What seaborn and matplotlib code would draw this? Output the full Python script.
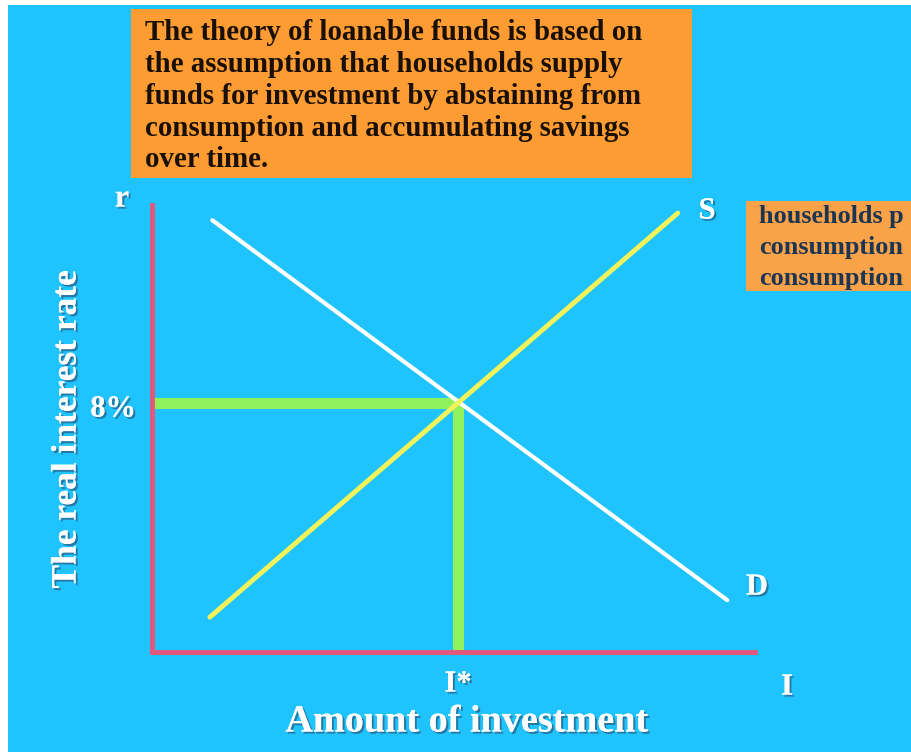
import matplotlib
matplotlib.use("Agg")
import matplotlib.pyplot as plt
import matplotlib.patheffects as pe
from matplotlib.patches import Rectangle
import seaborn as sns
import pandas as pd

# ---- data ----
demand_x = [1.0, 9.54]
demand_y = [9.66, 1.16]
supply_x = [0.96, 8.72]
supply_y = [0.78, 9.82]
eq_x = 5.07
eq_y = 5.57
rate_label = "8%"
qty_label = "I*"
x_axis_name = "I"
y_axis_name = "r"
supply_name = "S"
demand_name = "D"
x_title = "Amount of investment"
y_title = "The real interest rate"
box_lines = ["The theory of loanable funds is based on",
             "the assumption that households supply",
             "funds for investment by abstaining from",
             "consumption and accumulating savings",
             "over time."]
side_lines = ["households p",
              "consumption",
              "consumption"]

sns.set_theme(style="white")
plt.rcParams['font.family'] = ['Liberation Serif', 'DejaVu Serif']

W, H = 912, 752
CYAN = "#1fc3fd"
fig = plt.figure(figsize=(W / 100, H / 100), dpi=100)
fig.patch.set_facecolor(CYAN)

def fx(px):
    return px / W

def fy(py):
    return 1 - py / H

# overlay axes for background and boxes (figure pixel coordinates)
ov = fig.add_axes([0, 0, 1, 1], zorder=0)
ov.set_xlim(0, W)
ov.set_ylim(H, 0)
ov.axis("off")
ov.patch.set_alpha(0)
ov.add_patch(Rectangle((0, 0), 8, H, facecolor="white", edgecolor="none", zorder=0))
ov.add_patch(Rectangle((0, 0), W, 5, facecolor="white", edgecolor="none", zorder=0))

# top orange box
ov.add_patch(Rectangle((131, 9), 561, 169, facecolor="#fd9c32", edgecolor="none", zorder=1))
for i, line in enumerate(box_lines):
    ov.text(145, 33 + i * 31.7, line, fontsize=20.8, fontweight="bold", color="#1a0f05",
            va="center", ha="left", zorder=2)

# side orange box (cut off by the edge in the reference)
ov.add_patch(Rectangle((746, 201), 200, 90, facecolor="#f9a247", edgecolor="none", zorder=1))
for i, line in enumerate(side_lines):
    ov.text(759, 217 + i * 30.5, line, fontsize=18.8, fontweight="bold", color="#1c3552",
            va="center", ha="left", zorder=2)

# main axes
L, R, T, B = 152, 755, 205, 652
ax = fig.add_axes([fx(L), fy(B), (R - L) / W, (B - T) / H], zorder=1)
ax.patch.set_alpha(0)
ax.set_xlim(0, 10)
ax.set_ylim(0, 10)

green = "#8ff25c"
ax.plot([0, eq_x], [eq_y, eq_y], color=green, lw=8, solid_capstyle="butt", zorder=2)
ax.plot([eq_x, eq_x], [0, eq_y], color=green, lw=8, solid_capstyle="butt", zorder=2)

df_d = pd.DataFrame({"x": demand_x, "y": demand_y})
df_s = pd.DataFrame({"x": supply_x, "y": supply_y})
sns.lineplot(data=df_d, x="x", y="y", ax=ax, color="white", lw=3, zorder=3)
sns.lineplot(data=df_s, x="x", y="y", ax=ax, color="#f2f25a", lw=3.5, zorder=4)

for s in ["top", "right"]:
    ax.spines[s].set_visible(False)
for s in ["left", "bottom"]:
    ax.spines[s].set_visible(True)
    ax.spines[s].set_color("#e2577a")
    ax.spines[s].set_linewidth(3.5)
ax.set_xticks([])
ax.set_yticks([])
ax.set_xlabel("")
ax.set_ylabel("")

# text overlay on top
tx = fig.add_axes([0, 0, 1, 1], zorder=2)
tx.set_xlim(0, W)
tx.set_ylim(H, 0)
tx.axis("off")
tx.patch.set_alpha(0)

shadow = [pe.withSimplePatchShadow(offset=(1.5, -1.5), shadow_rgbFace="#2a5a80", alpha=0.7), pe.Normal()]

def wtext(x, y, s, size, **kw):
    t = tx.text(x, y, s, fontsize=size, fontweight="bold", color="white", zorder=5, **kw)
    t.set_path_effects(shadow)
    return t

wtext(122, 199, y_axis_name, 23, ha="center", va="center")
wtext(136, 409, rate_label, 22, ha="right", va="center")
wtext(707, 211, supply_name, 22, ha="center", va="center")
wtext(757, 587, demand_name, 22, ha="center", va="center")
wtext(458, 684, qty_label, 22, ha="center", va="center")
wtext(787, 687, x_axis_name, 22, ha="center", va="center")
wtext(467, 722, x_title, 27.5, ha="center", va="center")
wtext(67, 429, y_title, 25.5, ha="center", va="center", rotation=90)

fig.savefig("out.png", dpi=100)
